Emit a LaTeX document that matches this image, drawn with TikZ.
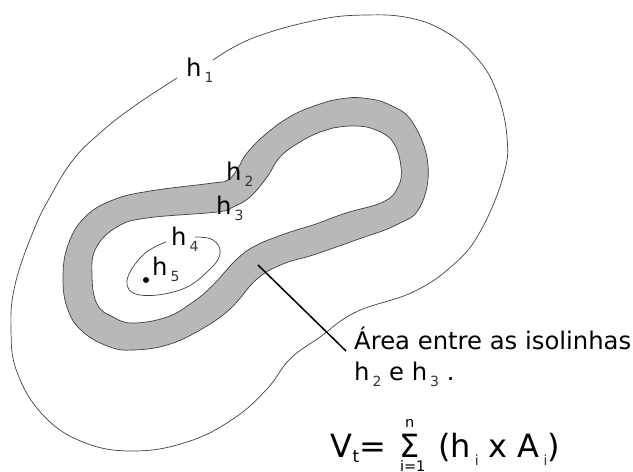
\documentclass[tikz,border=0pt]{standalone}
\usepackage{fontspec}
\setmainfont{DejaVu Sans}
\usetikzlibrary{positioning}
\newcommand{\lowidx}[1]{\hspace{0.12em}\raisebox{-0.26em}{\fontsize{14}{14}\selectfont\textcolor{black!80}{#1}}}
\newcommand{\eqnidx}[1]{\hspace{0.02em}\raisebox{-0.16em}{\fontsize{17}{17}\selectfont #1}}
\tikzset{
  isoline/.style={draw=black!75, line width=0.7pt},
  lbl/.style={font=\fontsize{24.3}{26}\selectfont, inner sep=0pt, anchor=base west},
  eqn/.style={font=\fontsize{32}{33}\selectfont, inner sep=0pt, anchor=base west},
  small/.style={font=\fontsize{14.5}{15}\selectfont, inner sep=0pt},
  leader/.style={draw=black, line width=1.5pt},
}
\begin{document}
\begin{tikzpicture}[x=1pt, y=-1pt, smooth, tension=0.7]
  \useasboundingbox (0,0) rectangle (633,472);
  %% Shaded band between h2 and h3
  \path[isoline, fill=black!28, even odd rule]
    plot[smooth cycle] coordinates {(68,245) (85,217) (113,200) (150,191) (213,183) (228,180) (238,168) (247,153)
      (267,133) (293,115) (320,104) (340,99) (363,98) (390,105) (413,123) (428,165) (420,207)
      (396,225) (356,240) (313,255) (283,264) (257,279) (230,309) (200,330) (167,345) (133,350)
      (110,347) (83,332) (68,310) (63,279)}
    plot[smooth cycle] coordinates {(117,227) (147,218) (217,212) (233,207) (250,197) (267,177)
      (280,157) (300,142) (320,132) (333,128) (356,126) (376,130) (393,142) (401,167) (398,187) (383,202)
      (346,213) (313,225) (290,232) (257,245) (237,259) (213,285) (193,302) (167,317) (133,323)
      (113,317) (97,304) (92,275) (96,248)};
  %% Open isolines, gap left for the label
  \draw[isoline] plot coordinates {(213,60) (253,38) (317,20) (366,15) (410,18) (446,32) (476,57) (496,90)
    (507,137) (503,177) (480,232) (453,265) (413,292) (356,312) (320,337) (290,359) (267,389) (233,419)
    (187,442) (133,451) (83,442) (43,415) (17,372) (11,329) (15,285) (33,232) (50,197) (73,160) (100,133)
    (133,107) (177,78)};
  \draw[isoline] plot coordinates {(195,237) (213,240) (220,254) (207,272) (180,290) (140,295)
    (127,281) (143,255) (166,242)};
  %% Labels
  \node[lbl] (h1) at (186,76) {h\lowidx{1}};
  \node[lbl] (h2) at (226,180) {h\lowidx{2}};
  \node[lbl] (h3) at (216,214) {h\lowidx{3}};
  \node[lbl] (h4) at (171,245) {h\lowidx{4}};
  \node[lbl] (h5) at (152,275) {h\lowidx{5}};
  \fill (146,280) circle (3pt);
  %% Leader and its text
  \node[lbl] (area) at (354,349) {Área entre as isolinhas};
  \node[lbl, below=31pt of area.base west, anchor=base west] (area2) {h\lowidx{2} e h\lowidx{3} .};
  \coordinate (bandpt) at (258,265);
  \coordinate (leadend) at (346,351);
  \draw[leader] (bandpt) -- (leadend);
  %% Formula
  \node[eqn] (vt) at (330,457) {V\eqnidx{t}=};
  \node[eqn, right=13pt of vt.base east, anchor=base west] (sigma) {Σ};
  \node[small, above=30pt of sigma.base, anchor=base] (upper) {n};
  \node[small, below=14pt of sigma.base, anchor=base, xshift=3pt] (lower) {i=1};
  \node[eqn, right=18pt of sigma.base east, anchor=base west] (rest) {(h\lowidx{i} x A\lowidx{i})};
\end{tikzpicture}
\end{document}
